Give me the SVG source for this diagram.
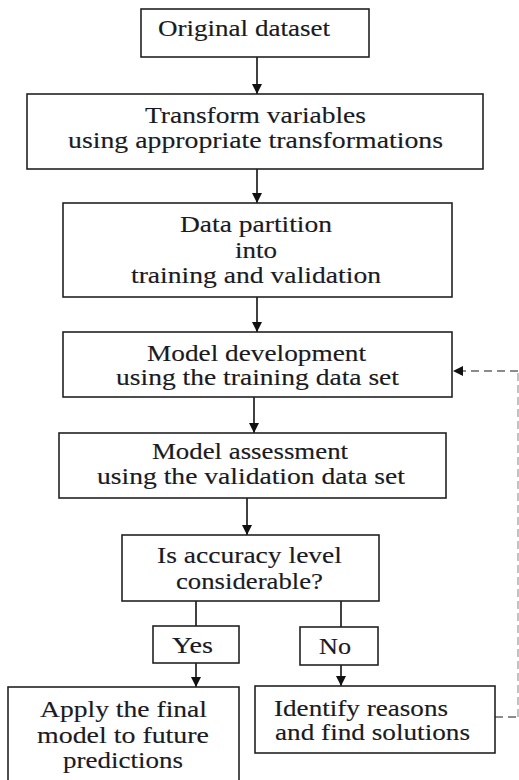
<svg xmlns="http://www.w3.org/2000/svg" width="519" height="780" viewBox="0 0 519 780">
<defs>
<style>
.box{fill:#fff;stroke:#222;stroke-width:1.6}
.t{font-family:"Liberation Serif","Times New Roman",Times,serif;font-size:24px;fill:#1a1a22;stroke:#1a1a22;stroke-width:0.15}
.ln{stroke:#111;stroke-width:1.6;fill:none}
.dash{stroke:#666;stroke-width:1.6;fill:none;stroke-dasharray:8 5}
.dashv{stroke:#999;stroke-width:1.2;fill:none;stroke-dasharray:8 4}
</style>
<marker id="ah" viewBox="0 0 10 10" refX="10" refY="5" markerWidth="10" markerHeight="10" markerUnits="userSpaceOnUse" orient="auto">
<path d="M0,0 L10,5 L0,10 Z" fill="#111"/>
</marker>
</defs>
<rect width="519" height="780" fill="#fff"/>
<g id="connectors">
<line class="ln" x1="257" y1="57" x2="257" y2="94" marker-end="url(#ah)"/>
<line class="ln" x1="257" y1="169" x2="257" y2="203" marker-end="url(#ah)"/>
<line class="ln" x1="257" y1="297" x2="257" y2="332" marker-end="url(#ah)"/>
<line class="ln" x1="254" y1="397" x2="254" y2="433" marker-end="url(#ah)"/>
<line class="ln" x1="247" y1="498" x2="247" y2="535" marker-end="url(#ah)"/>
<line class="ln" x1="196" y1="601" x2="196" y2="626"/>
<line class="ln" x1="196" y1="663" x2="196" y2="687" marker-end="url(#ah)"/>
<line class="ln" x1="341" y1="601" x2="341" y2="627"/>
<line class="ln" x1="341" y1="665" x2="341" y2="686" marker-end="url(#ah)"/>
<line class="dash" x1="495" y1="717" x2="518" y2="717"/>
<line class="dashv" x1="518" y1="717" x2="518" y2="371"/>
<line class="dash" x1="518" y1="371" x2="453" y2="371" marker-end="url(#ah)"/>
</g>
<g id="n1">
<rect class="box" x="141" y="9" width="228" height="48"/>
<text class="t" x="158" y="36" textLength="172" lengthAdjust="spacingAndGlyphs">Original dataset</text>
</g>
<g id="n2">
<rect class="box" x="27" y="94" width="456" height="75"/>
<text class="t" x="145" y="123" textLength="221" lengthAdjust="spacingAndGlyphs">Transform variables</text>
<text class="t" x="68" y="148" textLength="375" lengthAdjust="spacingAndGlyphs">using appropriate transformations</text>
</g>
<g id="n3">
<rect class="box" x="63" y="203" width="389" height="94"/>
<text class="t" x="180" y="232" textLength="152" lengthAdjust="spacingAndGlyphs">Data partition</text>
<text class="t" x="235" y="258" textLength="42" lengthAdjust="spacingAndGlyphs">into</text>
<text class="t" x="131" y="283" textLength="250" lengthAdjust="spacingAndGlyphs">training and validation</text>
</g>
<g id="n4">
<rect class="box" x="63" y="332" width="389" height="65"/>
<text class="t" x="147" y="361" textLength="219" lengthAdjust="spacingAndGlyphs">Model development</text>
<text class="t" x="116" y="385" textLength="283" lengthAdjust="spacingAndGlyphs">using the training data set</text>
</g>
<g id="n5">
<rect class="box" x="59" y="433" width="387" height="65"/>
<text class="t" x="152" y="459" textLength="196" lengthAdjust="spacingAndGlyphs">Model assessment</text>
<text class="t" x="97" y="484" textLength="308" lengthAdjust="spacingAndGlyphs">using the validation data set</text>
</g>
<g id="n6">
<rect class="box" x="122" y="535" width="257" height="66"/>
<text class="t" x="157" y="563" textLength="185" lengthAdjust="spacingAndGlyphs">Is accuracy level</text>
<text class="t" x="176" y="589" textLength="147" lengthAdjust="spacingAndGlyphs">considerable?</text>
</g>
<g id="yes">
<rect class="box" x="153" y="626" width="86" height="37"/>
<text class="t" x="172" y="653" textLength="41" lengthAdjust="spacingAndGlyphs">Yes</text>
</g>
<g id="no">
<rect class="box" x="300" y="627" width="78" height="38"/>
<text class="t" x="319" y="654" textLength="32" lengthAdjust="spacingAndGlyphs">No</text>
</g>
<g id="n7">
<rect class="box" x="8" y="687" width="231" height="100"/>
<text class="t" x="40" y="717" textLength="167" lengthAdjust="spacingAndGlyphs">Apply the final</text>
<text class="t" x="37" y="743" textLength="172" lengthAdjust="spacingAndGlyphs">model to future</text>
<text class="t" x="63" y="768" textLength="120" lengthAdjust="spacingAndGlyphs">predictions</text>
</g>
<g id="n8">
<rect class="box" x="255" y="686" width="240" height="67"/>
<text class="t" x="274" y="716" textLength="174" lengthAdjust="spacingAndGlyphs">Identify reasons</text>
<text class="t" x="275" y="740" textLength="195" lengthAdjust="spacingAndGlyphs">and find solutions</text>
</g>
</svg>
